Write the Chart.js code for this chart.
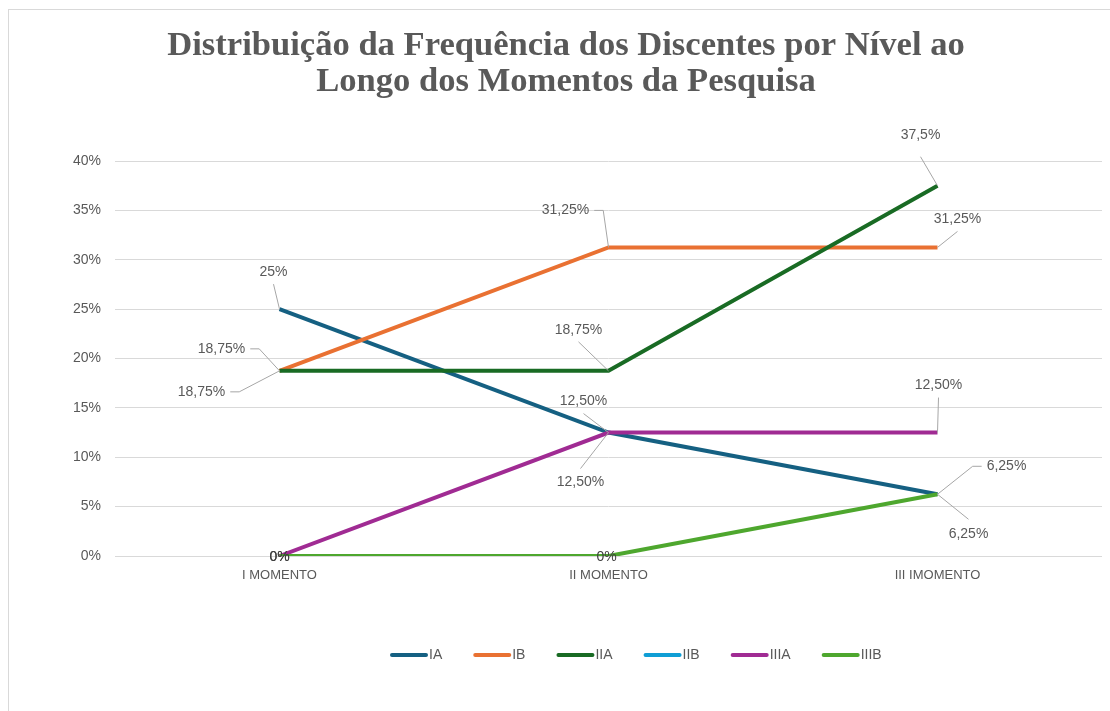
<!DOCTYPE html>
<html lang="pt-BR">
<head>
<meta charset="utf-8">
<title>Distribuição da Frequência dos Discentes</title>
<script src="https://cdn.jsdelivr.net/npm/chart.js@4.4.1/dist/chart.umd.min.js"></script>
<style>
  html, body { margin: 0; padding: 0; background: #fff; overflow: hidden; }
  #frame {
    position: absolute; left: 8px; top: 9px;
    width: 1300px; height: 900px;
    border: 1px solid #d9d9d9; box-sizing: border-box;
  }
  #chart { position: absolute; left: 0; top: 0; }
</style>
</head>
<body>
<div id="frame"></div>
<canvas id="chart" width="1110" height="711"></canvas>
<script>
// ===== Data =====
const momentos = ['I MOMENTO', 'II MOMENTO', 'III IMOMENTO'];
const niveis = ['IA', 'IB', 'IIA', 'IIB', 'IIIA', 'IIIB'];

const seriesIA = [25, 12.5, 6.25];
const seriesIB = [18.75, 31.25, 31.25];
const seriesIIA = [18.75, 18.75, 37.5];
const seriesIIB = [null, null, null];
const seriesIIIA = [0, 12.5, 12.5];
const seriesIIIB = [0, 0, 6.25];

const yTicks = [0, 5, 10, 15, 20, 25, 30, 35, 40];

// ===== Styling =====
const cores = ['#156082', '#E97132', '#196B24', '#0F9ED5', '#A02B93', '#4EA72E'];
const textGray = '#595959';
const gridGray = '#d9d9d9';
const leaderGray = '#a6a6a6';

// label placement per point: [dx, dy, mode, decimals, gap]
// mode: 'v' leader to top/bottom, 's' leader to side, 'n' no leader
const labelLayout = [
  [[-6, -37, 'v', 0], [-25, -31, 'v', 2], [31, 40, 'v', 2, 15]],
  [[-58, -22, 's', 2], [-43, -37, 's', 2], [20, -28, 'v', 2]],
  [[-78, 21, 's', 2], [-30, -41, 'v', 2], [-17, -51, 'v', 1, 22]],
  [null, null, null],
  [[0, 1, 'n', 0], [-28, 50, 'v', 2, 14], [1, -47, 'v', 2]],
  [[0, 1, 'n', 0], [-2, 1, 'n', 0], [69, -28, 's', 2]]
];

const allSeries = [seriesIA, seriesIB, seriesIIA, seriesIIB, seriesIIIA, seriesIIIB];

function fmtPct(v, dec) {
  return v.toFixed(dec).replace('.', ',') + '%';
}

// ===== Title, legend and data labels =====
const extrasPlugin = {
  id: 'extras',
  afterDatasetsDraw(chart) {
    const ctx = chart.ctx;
    ctx.save();
    ctx.font = '14px "Liberation Sans", Arial, sans-serif';
    ctx.textAlign = 'center';
    ctx.textBaseline = 'middle';
    chart.data.datasets.forEach((ds, i) => {
      const meta = chart.getDatasetMeta(i);
      meta.data.forEach((pt, j) => {
        const lay = labelLayout[i][j];
        const v = ds.data[j];
        if (!lay || v === null) return;
        const [dx, dy, mode, dec, gap] = lay;
        const txt = fmtPct(v, dec);
        const w = ctx.measureText(txt).width;
        const cx = pt.x + dx, cy = pt.y + dy;
        ctx.strokeStyle = leaderGray;
        ctx.lineWidth = 1;
        if (mode === 'v') {
          const g = gap || 12;
          ctx.beginPath();
          ctx.moveTo(cx, dy < 0 ? cy + g : cy - g);
          ctx.lineTo(pt.x, pt.y);
          ctx.stroke();
        } else if (mode === 's') {
          const e = dx < 0 ? cx + w / 2 + 5 : cx - w / 2 - 5;
          const e2 = dx < 0 ? e + 9 : e - 9;
          ctx.beginPath();
          ctx.moveTo(e, cy);
          ctx.lineTo(e2, cy);
          ctx.lineTo(pt.x, pt.y);
          ctx.stroke();
        }
        ctx.fillStyle = mode === 'n' ? '#404040' : textGray;
        ctx.fillText(txt, cx, cy);
      });
    });
    ctx.restore();
  },
  afterDraw(chart) {
    const ctx = chart.ctx;
    ctx.save();
    // title
    ctx.fillStyle = textGray;
    ctx.textAlign = 'center';
    ctx.textBaseline = 'middle';
    ctx.font = 'bold 34.6px "Liberation Serif", "Times New Roman", serif';
    ctx.fillText('Distribuição da Frequência dos Discentes por Nível ao', 566, 46);
    ctx.fillText('Longo dos Momentos da Pesquisa', 566, 82);

    // legend
    ctx.font = '14px "Liberation Sans", Arial, sans-serif';
    ctx.textAlign = 'left';
    let x = 390;
    const y = 655;
    chart.data.datasets.forEach(ds => {
      ctx.strokeStyle = ds.borderColor;
      ctx.lineWidth = 4;
      ctx.lineCap = 'round';
      ctx.beginPath();
      ctx.moveTo(x + 2, y);
      ctx.lineTo(x + 36, y);
      ctx.stroke();
      ctx.fillStyle = textGray;
      ctx.fillText(ds.label, x + 39, y);
      x += 39 + ctx.measureText(ds.label).width + 31;
    });
    ctx.restore();
  }
};

// ===== Chart =====
const datasets = niveis.map((nome, i) => ({
  label: nome,
  data: allSeries[i],
  borderColor: cores[i],
  backgroundColor: cores[i],
  borderWidth: 4,
  pointRadius: 0,
  pointHoverRadius: 0,
  tension: 0,
  fill: false,
  order: niveis.length - i
}));

new Chart(document.getElementById('chart'), {
  type: 'line',
  data: { labels: momentos, datasets },
  options: {
    responsive: false,
    animation: false,
    devicePixelRatio: 1,
    layout: { padding: { top: 161, right: 8, bottom: 115, left: 0 } },
    plugins: {
      legend: { display: false },
      title: { display: false },
      tooltip: { enabled: false }
    },
    scales: {
      x: {
        offset: true,
        grid: { display: false, drawTicks: false },
        border: { display: false },
        ticks: {
          color: textGray,
          font: { family: '"Liberation Sans", Arial, sans-serif', size: 13 },
          padding: 12
        },
        afterFit(s) { s.height = 40; }
      },
      y: {
        min: 0,
        max: 40,
        afterBuildTicks(s) { s.ticks = yTicks.map(v => ({ value: v })); },
        grid: { color: gridGray, lineWidth: 1, drawTicks: false },
        border: { display: false },
        ticks: {
          color: textGray,
          font: { family: '"Liberation Sans", Arial, sans-serif', size: 14 },
          padding: 14,
          callback: v => v + '%'
        },
        afterFit(s) { s.width = 115; }
      }
    }
  },
  plugins: [extrasPlugin]
});
</script>
</body>
</html>
